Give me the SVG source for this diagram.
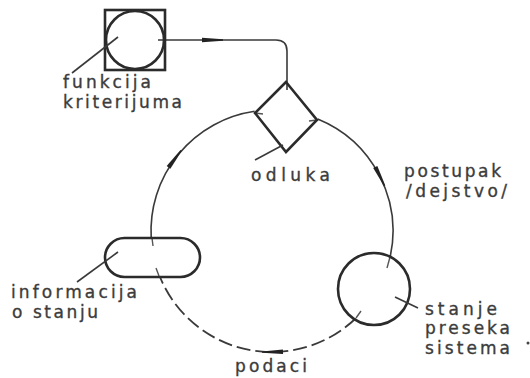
<svg xmlns="http://www.w3.org/2000/svg" width="530" height="378" viewBox="0 0 530 378">
<style>
.shape{fill:none;stroke:#2b2b2b;stroke-width:2.6}
.line{fill:none;stroke:#3a3a3a;stroke-width:1.6}
.dash{fill:none;stroke:#3a3a3a;stroke-width:1.8;stroke-dasharray:14 5}
.tick{fill:none;stroke:#555;stroke-width:1.4}
.lbl{font-family:"DejaVu Sans","Liberation Sans",sans-serif;font-size:17px;fill:#3c3c3c;stroke:#3c3c3c;stroke-width:0.35}
.arr{fill:#222}
</style>
<defs>
<path id="arrow" d="M-11,-2.3 L10,-0.7 L10,0.7 L-11,2.3 Z"/>
</defs>
<rect width="530" height="378" fill="#ffffff"/>

<g id="connectors">
  <path class="line" d="M158,40 H276 Q287,40 287,51 V90"/>
  <path class="line" d="M151.2,238 A121,121 0 0 1 254.6,111.3"/>
  <path class="line" d="M317.7,119 A121,121 0 0 1 390,257.6"/>
  <path class="dash" d="M355.6,318.5 A121,121 0 0 1 160,277"/>
  <line class="tick" x1="152" y1="238" x2="153" y2="246"/>
  <line class="tick" x1="156" y1="268" x2="159" y2="276"/>
  <line class="tick" x1="255" y1="113" x2="263" y2="114"/>
  <line class="tick" x1="317" y1="120" x2="309" y2="121"/>
  <line class="tick" x1="390" y1="257" x2="387" y2="268"/>
  <line class="tick" x1="356" y1="318" x2="361" y2="311"/>
  <use href="#arrow" class="arr" transform="translate(213,40)"/>
  <use href="#arrow" class="arr" transform="translate(175.1,158.5) rotate(-53.2)"/>
  <use href="#arrow" class="arr" transform="translate(380.2,176.8) rotate(63.4)"/>
  <use href="#arrow" class="arr" transform="translate(272,352) rotate(179)"/>
</g>

<g id="funkcija-kriterijuma">
  <rect class="shape" x="105" y="10" width="60" height="60"/>
  <circle class="shape" cx="135" cy="40" r="29"/>
  <line class="line" x1="118" y1="37" x2="72" y2="73"/>
  <text class="lbl" x="63" y="88" textLength="88" lengthAdjust="spacing">funkcija</text>
  <text class="lbl" x="63" y="108" textLength="119" lengthAdjust="spacing">kriterijuma</text>
</g>

<g id="odluka">
  <polygon class="shape" points="286,82 317,120 286,152 255,113"/>
  <line class="line" x1="283" y1="145" x2="255" y2="160"/>
  <text class="lbl" x="251" y="181" textLength="79" lengthAdjust="spacing">odluka</text>
</g>

<g id="postupak">
  <text class="lbl" x="404" y="177" textLength="97" lengthAdjust="spacing">postupak</text>
  <text class="lbl" x="406" y="197" textLength="101" lengthAdjust="spacing">/dejstvo/</text>
</g>

<g id="stanje-preseka">
  <circle class="shape" cx="374" cy="289" r="36"/>
  <line class="line" x1="395" y1="297" x2="418" y2="308"/>
  <text class="lbl" x="425" y="315" textLength="72" lengthAdjust="spacing">stanje</text>
  <text class="lbl" x="425" y="334" textLength="85" lengthAdjust="spacing">preseka</text>
  <text class="lbl" x="425" y="354" textLength="85" lengthAdjust="spacing">sistema</text>
  <circle cx="528" cy="343" r="1.5" fill="#444"/>
</g>

<g id="informacija">
  <rect class="shape" x="105" y="238" width="95" height="39" rx="19.5"/>
  <line class="line" x1="118" y1="252" x2="77" y2="282"/>
  <text class="lbl" x="11" y="298" textLength="126" lengthAdjust="spacing">informacija</text>
  <text class="lbl" x="12" y="318" textLength="86" lengthAdjust="spacing">o stanju</text>
</g>

<g id="podaci">
  <text class="lbl" x="235" y="372" textLength="72" lengthAdjust="spacing">podaci</text>
</g>
</svg>
